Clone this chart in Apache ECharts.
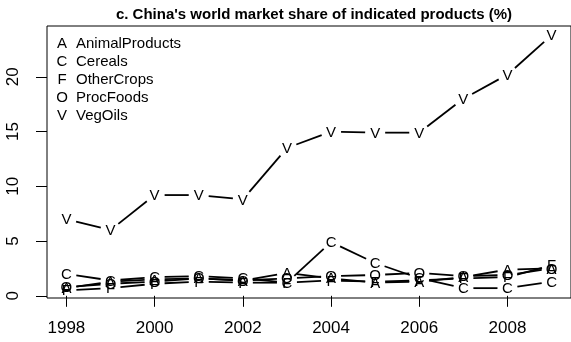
<!DOCTYPE html>
<html>
<head>
<meta charset="utf-8">
<script src="https://cdn.jsdelivr.net/npm/echarts@6/dist/echarts.min.js"></script>
<style>
  html, body { margin: 0; padding: 0; background: #fff; }
  #chart { width: 571px; height: 342px; }
</style>
</head>
<body>
<div id="chart"></div>
<script>
// data
const years = [1998, 1999, 2000, 2001, 2002, 2003, 2004, 2005, 2006, 2007, 2008, 2009];
const seriesNames = ["AnimalProducts", "Cereals", "OtherCrops", "ProcFoods", "VegOils"];
const letters = ["A", "C", "F", "O", "V"];
const animalProducts = [0.7, 1.3, 1.5, 1.6, 1.4, 2.1, 1.6, 1.2, 1.3, 1.7, 2.4, 2.5];
const cereals = [2.0, 1.4, 1.7, 1.8, 1.6, 1.2, 4.9, 3.0, 1.6, 0.7, 0.7, 1.3];
const otherCrops = [0.5, 0.7, 1.1, 1.3, 1.2, 1.2, 1.4, 1.3, 1.4, 1.6, 1.7, 2.8];
const procFoods = [0.8, 1.1, 1.3, 1.6, 1.4, 1.6, 1.8, 1.9, 2.1, 1.8, 1.9, 2.5];
const vegOils = [7.0, 6.0, 9.2, 9.2, 8.8, 13.5, 15.0, 14.9, 14.9, 18.0, 20.2, 23.8];
const xTicks = [1998, 2000, 2002, 2004, 2006, 2008];
const yTicks = [0, 5, 10, 15, 20];

const allValues = [animalProducts, cereals, otherCrops, procFoods, vegOils];
const FONT = "Liberation Sans";
const GAP = 10; // gap around the letter like R type="b"

let chart = echarts.init(document.getElementById("chart"));

// one custom series per product: letter at each point + shortened segment to the next
const makeSeries = (vals, k) => ({
  type: "custom",
  name: seriesNames[k],
  data: years.map((y, i) => [y, vals[i]]),
  encode: { x: 0, y: 1 },
  renderItem: (params, api) => {
    const i = params.dataIndex;
    const p = api.coord([api.value(0), api.value(1)]);
    const children = [
      {
        type: "text",
        style: {
          text: letters[k],
          x: p[0],
          y: p[1] + 1,
          align: "center",
          verticalAlign: "middle",
          font: "15px '" + FONT + "'",
          fill: "#000",
        },
      },
    ];
    if (i < years.length - 1) {
      const q = api.coord([years[i + 1], vals[i + 1]]);
      const dx = q[0] - p[0];
      const dy = q[1] - p[1];
      const len = Math.sqrt(dx * dx + dy * dy);
      if (len > 2 * GAP) {
        const ux = dx / len, uy = dy / len;
        children.push({
          type: "line",
          shape: {
            x1: p[0] + ux * GAP,
            y1: p[1] + uy * GAP,
            x2: q[0] - ux * GAP,
            y2: q[1] - uy * GAP,
          },
          style: { stroke: "#000", lineWidth: 1.8 },
        });
      }
    }
    return { type: "group", children };
  },
});

// legend drawn as text rows (letter + name)
const legendItems = [];
seriesNames.forEach((name, k) => {
  const y = 44 + k * 18;
  legendItems.push({
    type: "text",
    style: { text: letters[k], x: 62, y: y, align: "center", verticalAlign: "middle", font: "15px '" + FONT + "'", fill: "#000" },
  });
  legendItems.push({
    type: "text",
    style: { text: name, x: 76, y: y, align: "left", verticalAlign: "middle", font: "15px '" + FONT + "'", fill: "#000" },
  });
});

chart.setOption({
  animation: false,
  backgroundColor: "#fff",
  title: {
    text: "c. China's world market share of indicated products (%)",
    left: 309,
    textAlign: "center",
    top: 2,
    textStyle: { fontFamily: FONT, fontSize: 15, fontWeight: "bold", color: "#000" },
  },
  grid: {
    left: 47,
    right: -1,
    top: 26,
    bottom: 44,
    show: true,
    borderColor: "#000",
    borderWidth: 1,
  },
  xAxis: {
    type: "value",
    min: 1997.56,
    max: 2009.44,
    axisLine: { show: false },
    splitLine: { show: false },
    axisTick: { show: true, length: 11, lineStyle: { color: "#000" }, customValues: xTicks },
    axisLabel: {
      customValues: xTicks,
      formatter: (v) => String(v),
      margin: 22,
      color: "#000",
      fontFamily: FONT,
      fontSize: 17,
    },
  },
  yAxis: {
    type: "value",
    min: -0.2,
    max: 24.64,
    axisLine: { show: false },
    splitLine: { show: false },
    axisTick: { show: true, length: 11, lineStyle: { color: "#000" }, customValues: yTicks },
    axisLabel: { customValues: yTicks, rotate: 90, margin: 25, color: "#000", fontFamily: FONT, fontSize: 17 },
  },
  graphic: legendItems,
  series: allValues.map((vals, k) => makeSeries(vals, k)),
});
</script>
</body>
</html>
